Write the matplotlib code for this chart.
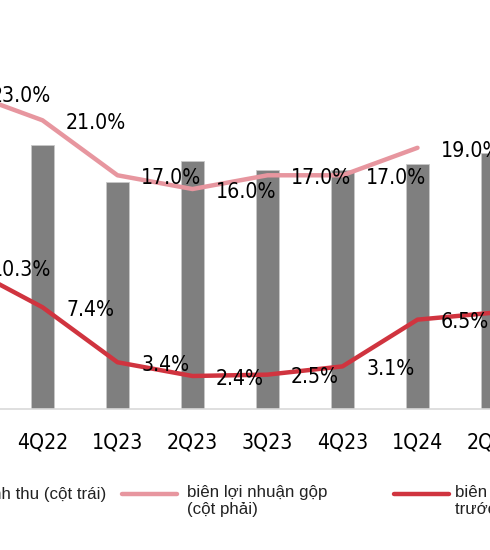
import numpy as np
import matplotlib
matplotlib.use('Agg')
import matplotlib.pyplot as plt
from matplotlib.lines import Line2D
from matplotlib import font_manager as fm

quarters = ['3Q22', '4Q22', '1Q23', '2Q23', '3Q23', '4Q23', '1Q24', '2Q24']
revenue = [2500, 2640, 2270, 2480, 2390, 2390, 2450, 2560]
gross_margin = [23.0, 21.0, 17.0, 16.0, 17.0, 17.0, 19.0]
pretax_margin = [10.3, 7.4, 3.4, 2.4, 2.5, 3.1, 6.5, 7.0]

bar_col = '#7f7f7f'
pink = '#e7969f'
red = '#d0343f'

# look for a narrow font for the numbers (reference uses Arial Narrow)
narrow_file = None
for f in fm.fontManager.ttflist:
    nm = f.name.lower() + ' ' + f.fname.lower()
    if f.style == 'normal' and f.weight in (400, 'normal', 'regular') and \
            ('narrow' in nm or 'condensed' in nm or f.stretch == 'condensed'):
        if narrow_file is None or 'liberation' in nm:
            narrow_file = f.fname
if narrow_file:
    num_fp = fm.FontProperties(fname=narrow_file, size=15.2)
else:
    num_fp = fm.FontProperties(family=['Liberation Sans', 'DejaVu Sans'], size=13.5)

W, H = 490, 550
fig = plt.figure(figsize=(W / 100, H / 100), dpi=100)
# the picture is a crop of a wider chart: let the axes run past both edges
left_px, right_px = -100, 590
ax = fig.add_axes([left_px / W, 141 / H, (right_px - left_px) / W, 409 / H])
x = np.arange(len(quarters))

ax.bar(x, revenue, width=0.31, color=bar_col, edgecolor='#c8c8c8', linewidth=0.6, zorder=2)
ax.set_ylim(0, 4090)
ax.set_yticks([])
for s in ['top', 'left', 'right']:
    ax.spines[s].set_visible(False)
ax.spines['bottom'].set_color('#d9d9d9')
ax.spines['bottom'].set_linewidth(1.2)

ax2 = ax.twinx()
ax2.plot(x[:len(gross_margin)], gross_margin, color=pink, lw=3.2,
         solid_capstyle='round', solid_joinstyle='round')
ax2.plot(x, pretax_margin, color=red, lw=3.2,
         solid_capstyle='round', solid_joinstyle='round')
ax2.set_ylim(0, 29.75)
ax2.set_yticks([])
for s in ax2.spines.values():
    s.set_visible(False)

for xs, vals in [(x[:len(gross_margin)], gross_margin), (x, pretax_margin)]:
    for xi, v in zip(xs, vals):
        ax2.annotate(f'{v:.1f}%', (xi, v), xytext=(17, -2), textcoords='offset points',
                     ha='left', va='center', fontproperties=num_fp,
                     annotation_clip=False)

ax.set_xticks(x)
ax.set_xticklabels(quarters, fontproperties=num_fp)
ax.tick_params(axis='x', length=0, pad=17)
# 4Q22 centred at 42.5 px, 75 px per quarter
ax.set_xlim(1 + (left_px - 42.5) / 75, 1 + (right_px - 42.5) / 75)

# legend, drawn by hand so it can run off the cropped edges
def fy(py):
    return (H - py) / H

leg_font = dict(family=['Liberation Sans', 'DejaVu Sans'], fontsize=12.2, color='#222222')
fig.text(106 / W, fy(494), 'Doanh thu (cột trái)', ha='right', va='center', **leg_font)
fig.add_artist(Line2D([122 / W, 177 / W], [fy(494), fy(494)], color=pink, lw=3.2,
                      solid_capstyle='round', transform=fig.transFigure))
fig.text(187 / W, fy(485), 'biên lợi nhuận gộp\n(cột phải)', ha='left', va='top',
         linespacing=1.2, **leg_font)
fig.add_artist(Line2D([394 / W, 449 / W], [fy(494), fy(494)], color=red, lw=3.2,
                      solid_capstyle='round', transform=fig.transFigure))
fig.text(455 / W, fy(485), 'biên lợi nhuận\ntrước thuế', ha='left', va='top',
         linespacing=1.2, **leg_font)

fig.savefig('out.png', dpi=100)
